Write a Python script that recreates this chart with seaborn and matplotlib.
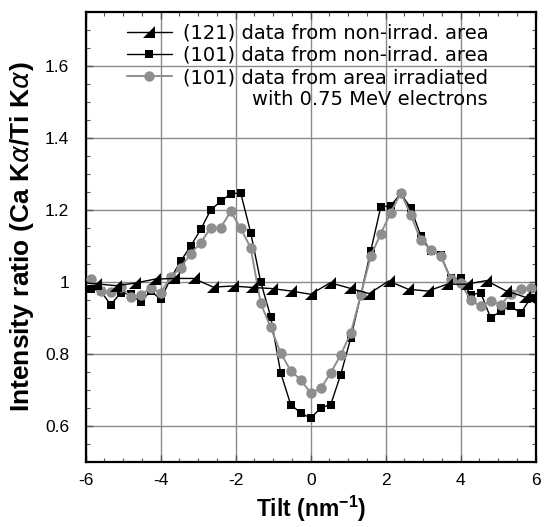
import numpy as np
import pandas as pd
import matplotlib
matplotlib.use("Agg")
import matplotlib.pyplot as plt
import seaborn as sns
from matplotlib.ticker import MultipleLocator, FixedLocator, FixedFormatter

# ---- data ----
tilt_fine = [-5.867, -5.6, -5.333, -5.067, -4.8, -4.533, -4.267, -4.0, -3.733, -3.467,
             -3.2, -2.933, -2.667, -2.4, -2.133, -1.867, -1.6, -1.333, -1.067, -0.8,
             -0.533, -0.267, 0.0, 0.267, 0.533, 0.8, 1.067, 1.333, 1.6, 1.867,
             2.133, 2.4, 2.667, 2.933, 3.2, 3.467, 3.733, 4.0, 4.267, 4.533,
             4.8, 5.067, 5.333, 5.6, 5.867]
ratio_101_nonirr = [0.982, 0.975, 0.937, 0.970, 0.966, 0.945, 0.975, 0.952, 1.010, 1.058,
                    1.100, 1.146, 1.200, 1.224, 1.245, 1.247, 1.137, 1.000, 0.904, 0.748,
                    0.660, 0.637, 0.622, 0.651, 0.660, 0.743, 0.844, 0.963, 1.086, 1.208,
                    1.212, 1.245, 1.206, 1.129, 1.086, 1.074, 1.010, 1.010, 0.965, 0.970,
                    0.900, 0.920, 0.933, 0.914, 0.956]
ratio_101_irr = [1.008, 0.975, 0.972, 0.987, 0.959, 0.964, 0.983, 0.971, 1.013, 1.040,
                 1.079, 1.109, 1.151, 1.151, 1.196, 1.149, 1.095, 0.941, 0.874, 0.803,
                 0.754, 0.729, 0.692, 0.705, 0.748, 0.798, 0.858, 0.963, 1.072, 1.134,
                 1.192, 1.247, 1.187, 1.116, 1.090, 1.071, 1.009, 0.998, 0.949, 0.933,
                 0.947, 0.937, 0.968, 0.982, 0.983]
tilt_coarse = [-6.24, -5.72, -5.2, -4.68, -4.16, -3.64, -3.12, -2.6, -2.08, -1.56,
               -1.04, -0.52, 0.0, 0.52, 1.04, 1.56, 2.08, 2.6, 3.12, 3.64,
               4.16, 4.68, 5.2, 5.72, 6.24]
ratio_121_nonirr = [1.000, 0.995, 0.990, 0.997, 1.008, 1.010, 1.010, 0.986, 0.989, 0.985,
                    0.982, 0.975, 0.966, 0.998, 0.983, 0.968, 1.003, 0.980, 0.975, 0.994,
                    0.994, 1.004, 0.976, 0.958, 0.926]

labels = ["(121) data from non-irrad. area",
          "(101) data from non-irrad. area",
          "(101) data from area irradiated"]
label_extra = "with 0.75 MeV electrons"
x_ticks = [-6, -4, -2, 0, 2, 4, 6]
y_ticks = [0.6, 0.8, 1.0, 1.2, 1.4, 1.6]
y_tick_labels = ["0.6", "0.8", "1", "1.2", "1.4", "1.6"]

df_fine = pd.DataFrame({"tilt": tilt_fine, "nonirr": ratio_101_nonirr, "irr": ratio_101_irr})
df_coarse = pd.DataFrame({"tilt": tilt_coarse, "r121": ratio_121_nonirr})

sns.set_theme(style="white")
plt.rcParams["font.family"] = ["Liberation Sans", "DejaVu Sans"]
plt.rcParams["axes.unicode_minus"] = False
plt.rcParams["text.color"] = "black"
plt.rcParams["axes.labelcolor"] = "black"
plt.rcParams["xtick.color"] = "black"
plt.rcParams["ytick.color"] = "black"
plt.rcParams["mathtext.fontset"] = "custom"
plt.rcParams["mathtext.rm"] = "Liberation Sans"
plt.rcParams["mathtext.it"] = "DejaVu Sans:italic"
plt.rcParams["mathtext.bf"] = "Liberation Sans:bold"

fig = plt.figure(figsize=(5.44, 5.27), dpi=100)
ax = fig.add_axes([0.1575, 0.1228, 0.8273, 0.855])

tri = [(-1, -1), (1, -1), (1, 1)]
gray = "#8e8e8e"

sns.lineplot(data=df_fine, x="tilt", y="nonirr", ax=ax, sort=False, estimator=None,
             color="black", lw=1.0, marker="s", markersize=6, markeredgewidth=0,
             markerfacecolor="black", label=labels[1], zorder=3)
sns.lineplot(data=df_fine, x="tilt", y="irr", ax=ax, sort=False, estimator=None,
             color=gray, lw=1.4, marker="o", markersize=7.5, markeredgewidth=0,
             markerfacecolor=gray, label=labels[2], zorder=4)
sns.lineplot(data=df_coarse, x="tilt", y="r121", ax=ax, sort=False, estimator=None,
             color="black", lw=1.0, marker=tri, markersize=8, markeredgewidth=0,
             markerfacecolor="black", label=labels[0], zorder=5)

ax.set_xlim(-6, 6)
ax.set_ylim(0.5, 1.75)
ax.xaxis.set_major_locator(FixedLocator(x_ticks))
ax.xaxis.set_minor_locator(MultipleLocator(0.5))
ax.yaxis.set_major_locator(FixedLocator(y_ticks))
ax.yaxis.set_major_formatter(FixedFormatter(y_tick_labels))
ax.yaxis.set_minor_locator(MultipleLocator(0.05))
ax.grid(True, which="major", color="#8a8a8a", lw=1.0)
ax.set_axisbelow(True)
ax.tick_params(which="both", direction="in", top=True, right=True, bottom=True, left=True,
               color="#555555")
ax.tick_params(which="major", length=5, width=1.0, labelsize=12.5, labelcolor="black")
ax.tick_params(which="minor", length=3, width=0.8)
ax.tick_params(axis="y", pad=12)
ax.tick_params(axis="x", pad=8)
for s in ax.spines.values():
    s.set_color("black")
    s.set_linewidth(1.6)

ax.set_xlabel(r"Tilt (nm$^{\mathbf{-1}}$)", fontsize=16.5, fontweight="bold", labelpad=4,
              color="black")
ax.set_ylabel(r"Intensity ratio (Ca K$\alpha$/Ti K$\alpha$)", fontsize=19,
              fontweight="bold", labelpad=6, color="black")

handles, labs = ax.get_legend_handles_labels()
order = [labs.index(l) for l in labels]
leg = ax.legend([handles[i] for i in order], [labs[i] for i in order],
                loc="upper left", bbox_to_anchor=(0.092, 0.974), frameon=False,
                prop={"family": "DejaVu Sans", "size": 14}, handlelength=2.3,
                handletextpad=0.6, labelspacing=0.17, borderpad=0, borderaxespad=0,
                labelcolor="black")
ax.text(0.894, 0.806, label_extra, transform=ax.transAxes, ha="right", va="center",
        fontsize=14, family="DejaVu Sans", color="black")

fig.savefig("out.png", dpi=100)
